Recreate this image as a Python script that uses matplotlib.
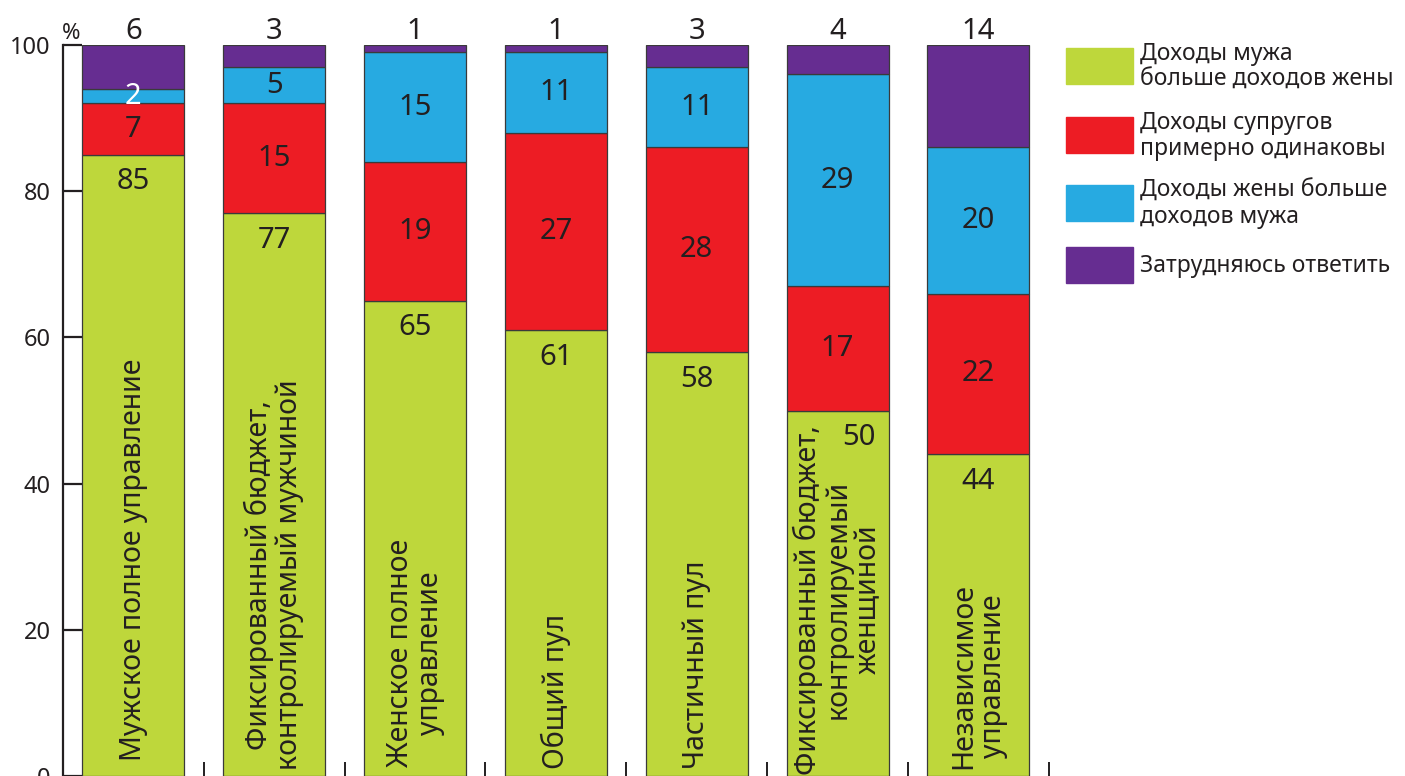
import numpy as np
import matplotlib
matplotlib.use("Agg")
import matplotlib.pyplot as plt
from matplotlib.patches import Rectangle

plt.rcParams['font.family'] = ['Noto Sans', 'DejaVu Sans']

# categories (money management types)
categories = [
    "Мужское полное управление",
    "Фиксированный бюджет,\nконтролируемый мужчиной",
    "Женское полное\nуправление",
    "Общий пул",
    "Частичный пул",
    "Фиксированный бюджет,\nконтролируемый\nженщиной",
    "Независимое\nуправление",
]

# shares, %
husband_more = [85, 77, 65, 61, 58, 50, 44]
equal = [7, 15, 19, 27, 28, 17, 22]
wife_more = [2, 5, 15, 11, 11, 29, 20]
hard_to_say = [6, 3, 1, 1, 3, 4, 14]

series_names = [
    "Доходы мужа\nбольше доходов жены",
    "Доходы супругов\nпримерно одинаковы",
    "Доходы жены больше\nдоходов мужа",
    "Затрудняюсь ответить",
]
colors = ['#BED73B', '#ED1C24', '#27AAE1', '#662D91']
ytick_vals = [0, 20, 40, 60, 80, 100]

text_color = '#231F20'

fig = plt.figure(figsize=(14.05, 7.76), dpi=100)
ax = fig.add_axes([63 / 1405, 0.0, 7.1 * 140.83 / 1405, 731 / 776])

x = np.arange(len(categories))
width = 0.724
series = [husband_more, equal, wife_more, hard_to_say]
bottom = np.zeros(len(categories))
for vals, col in zip(series, colors):
    ax.bar(x, vals, width, bottom=bottom, color=col, edgecolor='#3a3a3a',
           linewidth=0.9, zorder=2)
    bottom += np.array(vals)

# value labels
for i in range(len(categories)):
    g, r, b, p = husband_more[i], equal[i], wife_more[i], hard_to_say[i]
    gx = x[i] + 0.15 if i == 5 else x[i]
    ax.text(gx, g - 3.7, str(g), ha='center', va='center', fontsize=21,
            color=text_color, zorder=3)
    ax.text(x[i], g + r / 2, str(r), ha='center', va='center', fontsize=21,
            color=text_color, zorder=3)
    ax.text(x[i], g + r + b / 2, str(b), ha='center', va='center', fontsize=21,
            color='white' if i == 0 else text_color, zorder=3)
    ax.text(x[i], 100.8, str(p), ha='center', va='baseline', fontsize=21,
            color=text_color, clip_on=False)

# category names inside bars
label_base = [2.0, 0.8, 1.2, 1.0, 1.0, 0.2, 1.0]
for i, name in enumerate(categories):
    ax.text(x[i], label_base[i], name, rotation=90, ha='center', va='bottom',
            multialignment='center', fontsize=20.5, color=text_color,
            linespacing=1.05, zorder=3)

ax.set_xlim(-0.5, 6.6)
ax.set_ylim(0, 100)
ax.set_yticks(ytick_vals)
ax.set_yticklabels([str(v) for v in ytick_vals], fontsize=17, color=text_color)
ax.tick_params(axis='y', direction='in', length=14, width=1.6, pad=9,
               color='#231F20')
ax.set_xticks(x + 0.5)
ax.set_xticklabels([])
ax.tick_params(axis='x', direction='in', length=10, width=1.4, color='#231F20')
for s in ['top', 'right', 'bottom']:
    ax.spines[s].set_visible(False)
ax.spines['left'].set_linewidth(1.6)
ax.spines['left'].set_color('#231F20')

ax.text(-0.445, 100.8, "%", ha='center', va='baseline', fontsize=16,
        color=text_color, clip_on=False)

# legend drawn by hand
W, H = 1405, 776
patch_tops = [48, 117, 185, 247]
for top, col, name in zip(patch_tops, colors, series_names):
    fig.patches.append(Rectangle((1066 / W, 1 - (top + 36) / H), 67 / W, 36 / H,
                                 color=col, transform=fig.transFigure))
    fig.text(1140 / W, 1 - (top + 19) / H, name, ha='left', va='center',
             fontsize=16.5, color=text_color, linespacing=1.1)

fig.savefig('out.png', dpi=100)
